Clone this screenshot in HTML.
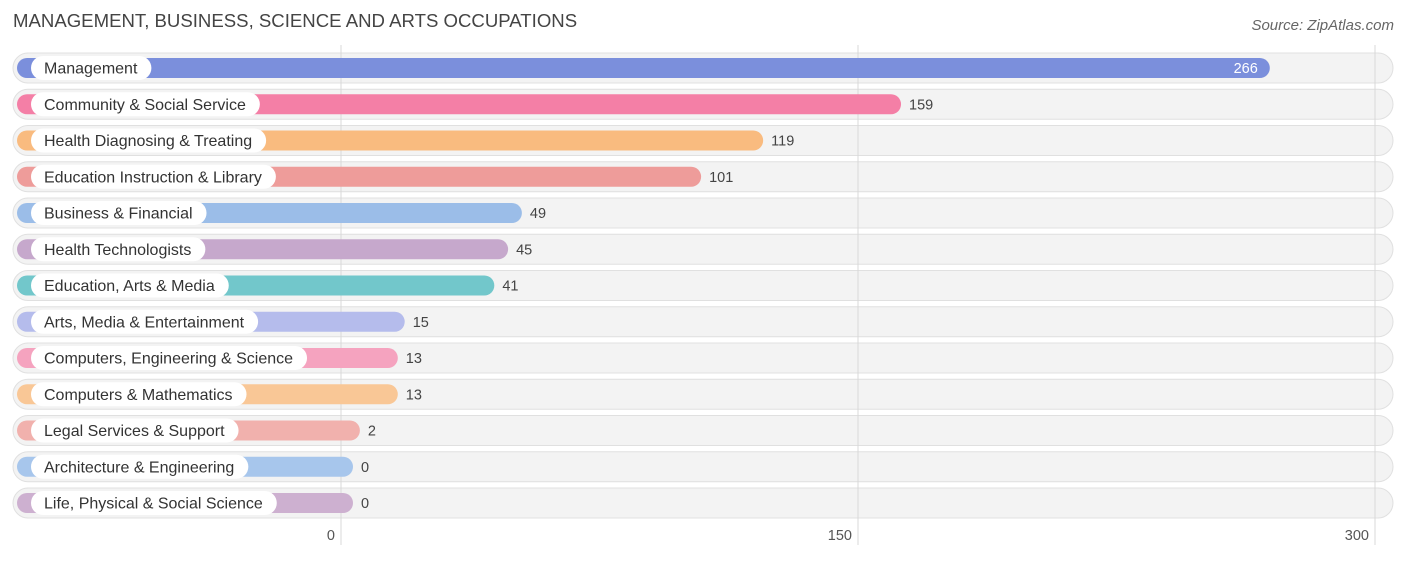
<!DOCTYPE html>
<html><head><meta charset="utf-8"><style>
body{margin:0;background:#fff;font-family:"Liberation Sans",sans-serif}
svg text{font-family:"Liberation Sans",sans-serif}
</style></head><body>
<svg id="c" width="1406" height="559">
<text x="13" y="27" font-size="18.6" fill="#444">MANAGEMENT, BUSINESS, SCIENCE AND ARTS OCCUPATIONS</text>
<text x="1394" y="30" font-size="15" fill="#666" font-style="italic" text-anchor="end">Source: ZipAtlas.com</text>
</svg>
<script>
const categories=["Management","Community & Social Service","Health Diagnosing & Treating","Education Instruction & Library","Business & Financial","Health Technologists","Education, Arts & Media","Arts, Media & Entertainment","Computers, Engineering & Science","Computers & Mathematics","Legal Services & Support","Architecture & Engineering","Life, Physical & Social Science"];
const values=[266,159,119,101,49,45,41,15,13,13,2,0,0];
const colors=["#7b8fdc","#f47fa6","#f9bb7f","#ee9c9a","#9bbde8","#c6a8cc","#72c7cb","#b5bcec","#f5a3bf","#f9c796","#f1b1ad","#a7c6ec","#cdb0d0"];
const ticks=[0,150,300];
const svg=document.getElementById('c');const NS='http://www.w3.org/2000/svg';
const x0=341,px=517/150;
const xs=v=>x0+v*px;
function el(t,a,p){const e=document.createElementNS(NS,t);for(const k in a)e.setAttribute(k,a[k]);(p||svg).appendChild(e);return e;}
categories.forEach((c,i)=>{
 const cy=68+i*36.25;
 const g=el('g',{});
 
 
 el('rect',{x:13,y:cy-15,width:1380,height:30,rx:15,fill:'#f3f3f3',stroke:'#e0e0e0'},g);
});
ticks.forEach(t=>{
 const l=el('line',{x1:xs(t),x2:xs(t),y1:45,y2:545,stroke:'#d8d8d8','stroke-width':1});
 
 
 const tx=el('text',{x:xs(t)-6,y:540,'font-size':14.5,fill:'#555','text-anchor':'end'});
 tx.textContent=t;
 
 
});
categories.forEach((c,i)=>{
 const cy=68+i*36.25;
 const g=el('g',{});
 
 
 const w=xs(values[i])+12-17;
 const b=el('rect',{x:17,y:cy-10,width:w,height:20,rx:10,fill:colors[i]},g);
 
 
 const pill=el('rect',{x:31,y:cy-12,width:100,height:24,rx:12,fill:'#fff'},g);
 pill.setAttribute('filter','');
 const t=el('text',{x:44,y:cy+5.5,'font-size':16,fill:'#333'},g);t.textContent=c;
 
 
 pill.setAttribute('width',t.getComputedTextLength()+27);
 const end=17+w;const inside=values[i]>200;
 const v=el('text',{x:inside?end-12:end+8,y:cy+5,'font-size':14.5,fill:inside?'#fff':'#444','text-anchor':inside?'end':'start'},g);
 v.textContent=values[i];
 
 
});
</script>
</body></html>
